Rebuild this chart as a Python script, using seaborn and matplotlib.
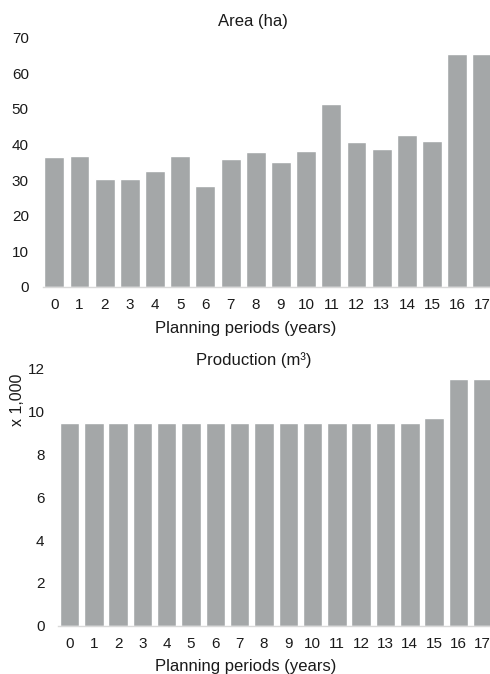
import matplotlib
matplotlib.use("Agg")
import matplotlib.pyplot as plt
import seaborn as sns

# data
periods = [str(i) for i in range(18)]
area_ha = [36.5, 36.9, 30.3, 30.4, 32.5, 36.7, 28.3, 35.9, 37.8, 35.0,
           38.2, 51.4, 40.7, 38.7, 42.6, 41.1, 65.3, 65.3]
production_k = [9.46, 9.46, 9.46, 9.46, 9.46, 9.46, 9.46, 9.46, 9.46, 9.46,
                9.46, 9.46, 9.46, 9.46, 9.46, 9.72, 11.53, 11.53]

sns.set_style("white")
plt.rcParams["font.family"] = ["Liberation Sans", "DejaVu Sans"]

bar_color = "#a4a7a8"
text_color = "#1a1a1a"
W, H = 490, 674
fig = plt.figure(figsize=(W / 100, H / 100), dpi=100)

ax1 = fig.add_axes([42.7 / W, 1 - 287 / H, 1 - 42.7 / W, (287 - 37.7) / H])
ax2 = fig.add_axes([58.3 / W, 1 - 625.7 / H, 1 - 58.3 / W, (625.7 - 369) / H])

sns.barplot(x=periods, y=area_ha, color=bar_color, width=0.79,
            saturation=1, ax=ax1)
sns.barplot(x=periods, y=production_k, color=bar_color, width=0.8,
            saturation=1, ax=ax2)

for ax, top, ticks in [(ax1, 70, range(0, 71, 10)), (ax2, 12, range(0, 13, 2))]:
    ax.set_ylim(0, top)
    ax.set_yticks(list(ticks))
    ax.set_xlim(-0.46, 17.3)
    ax.set_xlabel("")
    ax.set_ylabel("")
    for s in ["top", "right", "left"]:
        ax.spines[s].set_visible(False)
    ax.spines["bottom"].set_color("#d9d9d9")
    ax.spines["bottom"].set_linewidth(1)
    ax.tick_params(axis="both", length=0, labelsize=11, colors=text_color)
    ax.tick_params(axis="y", pad=10)
    ax.tick_params(axis="x", pad=8)

fig.text(253 / W, 1 - 26 / H, "Area (ha)", ha="center", va="baseline",
         fontsize=12, color=text_color)
fig.text(246 / W, 1 - 333 / H, "Planning periods (years)", ha="center",
         va="baseline", fontsize=12, color=text_color)
fig.text(254 / W, 1 - 365 / H, "Production (m³)", ha="center", va="baseline",
         fontsize=12, color=text_color)
fig.text(246 / W, 1 - 671 / H, "Planning periods (years)", ha="center",
         va="baseline", fontsize=12, color=text_color)
fig.text(18 / W, 1 - 400 / H, "x 1,000", rotation=90, ha="center",
         va="center", fontsize=11.5, color=text_color)

fig.savefig("out.png", dpi=100)
